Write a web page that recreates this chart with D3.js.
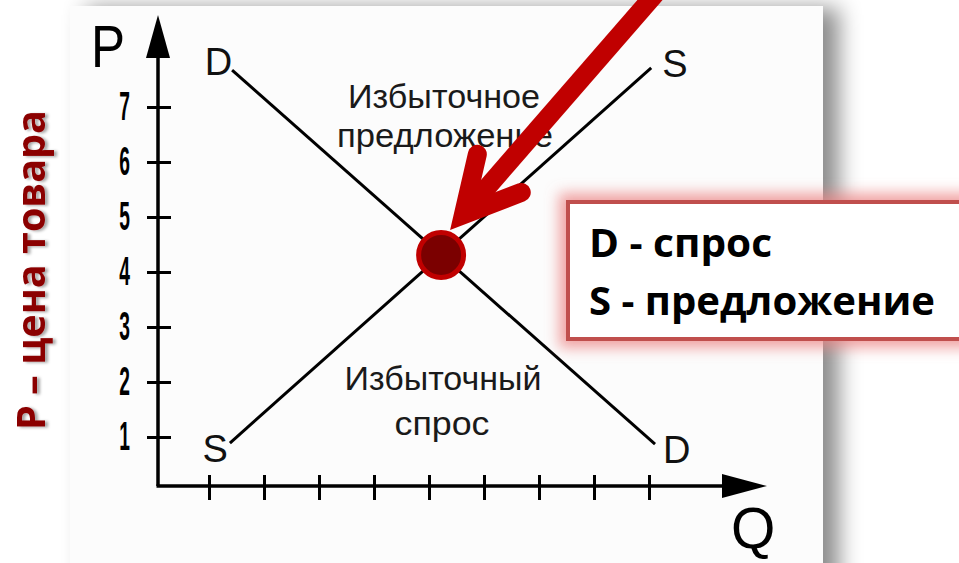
<!DOCTYPE html>
<html>
<head>
<meta charset="utf-8">
<script src="https://cdn.jsdelivr.net/npm/d3@7"></script>
<style>
  body { margin: 0; background: #fff; overflow: hidden; }
  svg { display: block; }
</style>
</head>
<body>
<div id="chart"></div>
<script>
// values (price P, quantity Q)
const priceTicks = [1, 2, 3, 4, 5, 6, 7];
const qtyTicks = [1, 2, 3, 4, 5, 6, 7, 8, 9];
const demand = [[1.42, 7.67], [9.11, 0.87]];
const supply = [[1.38, 0.89], [9.04, 7.71]];
const equilibrium = [5.22, 4.31];
const curveNames = ["D", "S"];
const surplusNote = ["Избыточное", "предложение"];
const shortageNote = ["Избыточный", "спрос"];
const legendLines = ["D - спрос", "S - предложение"];
const yTitle = "P – цена товара";
const axisNames = ["P", "Q"];

const w = 959;
const h = 563;

const x = d3.scaleLinear().domain([0, 10]).range([154, 704]);
const y = d3.scaleLinear().domain([0, 7]).range([492, 107]);

// the axes cross a little off the zero point in the source image
const ox = x(0) + 4;
const oy = y(0) - 6;

const svg = d3.select("#chart").append("svg")
  .attr("width", w)
  .attr("height", h);

const defs = svg.append("defs");

const panelShadow = defs.append("filter").attr("id", "panelShadow")
  .attr("x", "-20%").attr("y", "-20%").attr("width", "140%").attr("height", "140%");
panelShadow.append("feDropShadow")
  .attr("dx", 16).attr("dy", 2).attr("stdDeviation", 11)
  .attr("flood-color", "#000").attr("flood-opacity", 0.45);

const glow = defs.append("filter").attr("id", "glow")
  .attr("x", "-30%").attr("y", "-60%").attr("width", "160%").attr("height", "220%");
glow.append("feMorphology").attr("in", "SourceAlpha").attr("operator", "dilate").attr("radius", 7).attr("result", "fat");
glow.append("feGaussianBlur").attr("in", "fat").attr("stdDeviation", 7).attr("result", "blur");
glow.append("feFlood").attr("flood-color", "#ec8585").attr("flood-opacity", 0.75);
glow.append("feComposite").attr("in2", "blur").attr("operator", "in").attr("result", "halo");
const gm = glow.append("feMerge");
gm.append("feMergeNode").attr("in", "halo");
gm.append("feMergeNode").attr("in", "SourceGraphic");

const textShadow = defs.append("filter").attr("id", "textShadow")
  .attr("x", "-10%").attr("y", "-30%").attr("width", "120%").attr("height", "160%");
textShadow.append("feDropShadow")
  .attr("dx", -1).attr("dy", 3).attr("stdDeviation", 1.6)
  .attr("flood-color", "#000").attr("flood-opacity", 0.35);

// picture panel
svg.append("rect")
  .attr("x", 70).attr("y", 6)
  .attr("width", 753).attr("height", 620)
  .attr("fill", "#fcfcfc")
  .attr("filter", "url(#panelShadow)");

// x ticks
const xAxis = svg.append("g")
  .attr("transform", "translate(0," + (oy - 11) + ")")
  .call(d3.axisBottom(x).tickValues(qtyTicks).tickSize(25).tickFormat(""));
xAxis.select(".domain").remove();
xAxis.selectAll("line").attr("stroke", "#000").attr("stroke-width", 3);

// y ticks
const yAxis = svg.append("g")
  .attr("transform", "translate(" + (ox + 13) + ",0)")
  .call(d3.axisLeft(y).tickValues(priceTicks).tickSize(24).tickPadding(17).tickFormat(d3.format("d")));
yAxis.select(".domain").remove();
yAxis.selectAll("line").attr("stroke", "#000").attr("stroke-width", 3);
yAxis.selectAll("text")
  .attr("x", -41 / 0.48)
  .attr("transform", "scale(0.48,1)")
  .attr("font-family", "Liberation Sans, Arial, sans-serif")
  .attr("font-weight", "bold")
  .attr("font-size", 40)
  .attr("fill", "#000");

// axis lines with arrow heads
svg.append("line")
  .attr("x1", ox).attr("y1", oy).attr("x2", ox).attr("y2", 40)
  .attr("stroke", "#000").attr("stroke-width", 3.5);
svg.append("path")
  .attr("d", "M" + ox + ",15L" + (ox - 12) + ",58L" + (ox + 12) + ",58Z")
  .attr("fill", "#000");
svg.append("line")
  .attr("x1", ox - 1.5).attr("y1", oy).attr("x2", 740).attr("y2", oy)
  .attr("stroke", "#000").attr("stroke-width", 3.5);
svg.append("path")
  .attr("d", "M767," + oy + "L722," + (oy - 12) + "L722," + (oy + 12) + "Z")
  .attr("fill", "#000");

// axis names
const axisFont = "Liberation Sans, Arial, sans-serif";
svg.append("text")
  .attr("x", 91).attr("y", 67)
  .attr("font-family", axisFont).attr("font-size", 60)
  .attr("textLength", 34).attr("lengthAdjust", "spacingAndGlyphs")
  .text(axisNames[0]);
svg.append("text")
  .attr("x", 731).attr("y", 548)
  .attr("font-family", axisFont).attr("font-size", 57)
  .text(axisNames[1]);

// demand and supply lines
const line = d3.line().x(d => x(d[0])).y(d => y(d[1]));
svg.selectAll(".curve")
  .data([demand, supply])
  .enter()
  .append("path")
  .attr("class", "curve")
  .attr("d", line)
  .attr("fill", "none")
  .attr("stroke", "#000")
  .attr("stroke-width", 3);

// curve end labels
const endLabels = [
  { name: curveNames[0], p: demand[0], dx: 0, dy: 5, anchor: "end" },
  { name: curveNames[0], p: demand[1], dx: 8, dy: 19, anchor: "start" },
  { name: curveNames[1], p: supply[0], dx: -2, dy: 19, anchor: "end" },
  { name: curveNames[1], p: supply[1], dx: 11, dy: 9, anchor: "start" }
];
svg.selectAll(".endLabel")
  .data(endLabels)
  .enter()
  .append("text")
  .attr("class", "endLabel")
  .attr("x", d => x(d.p[0]) + d.dx)
  .attr("y", d => y(d.p[1]) + d.dy)
  .attr("text-anchor", d => d.anchor)
  .attr("font-family", axisFont)
  .attr("font-size", 38)
  .attr("fill", "#111")
  .text(d => d.name);

// area notes
const notes = [
  { t: surplusNote[0], cx: 444, by: 108, len: 192 },
  { t: surplusNote[1], cx: 445, by: 147, len: 216 },
  { t: shortageNote[0], cx: 443, by: 390, len: 197 },
  { t: shortageNote[1], cx: 442, by: 435, len: 95 }
];
svg.selectAll(".note")
  .data(notes)
  .enter()
  .append("text")
  .attr("class", "note")
  .attr("x", d => d.cx)
  .attr("y", d => d.by)
  .attr("text-anchor", "middle")
  .attr("font-family", axisFont)
  .attr("font-size", 33)
  .attr("fill", "#1a1a1a")
  .attr("textLength", d => d.len)
  .attr("lengthAdjust", "spacingAndGlyphs")
  .text(d => d.t);

// red pointer arrow towards the equilibrium
const ex = x(equilibrium[0]);
const ey = y(equilibrium[1]);
const tip = [ex + 9, ey - 25];
const ang = -49 * Math.PI / 180;
const half = 28 * Math.PI / 180;
const sw = 19;
const ext = (sw / 2) / Math.sin(half);
const v = [tip[0] + Math.cos(ang) * ext, tip[1] + Math.sin(ang) * ext];
const armL = [v[0] + Math.cos(ang - half) * 62, v[1] + Math.sin(ang - half) * 62];
const armR = [v[0] + Math.cos(ang + half) * 62, v[1] + Math.sin(ang + half) * 62];
const far = [v[0] + Math.cos(ang) * 420, v[1] + Math.sin(ang) * 420];

svg.append("path")
  .attr("d", "M" + v + "L" + far)
  .attr("fill", "none")
  .attr("stroke", "#c00000")
  .attr("stroke-width", sw);
svg.append("path")
  .attr("d", "M" + armL + "L" + v + "L" + armR)
  .attr("fill", "none")
  .attr("stroke", "#c00000")
  .attr("stroke-width", sw)
  .attr("stroke-linecap", "round")
  .attr("stroke-linejoin", "miter");

// equilibrium point
svg.append("circle")
  .attr("cx", ex).attr("cy", ey)
  .attr("r", 22.5)
  .attr("fill", "#7b0000")
  .attr("stroke", "#c00000")
  .attr("stroke-width", 5);

// legend box
svg.append("rect")
  .attr("x", 568).attr("y", 202)
  .attr("width", 420).attr("height", 137)
  .attr("fill", "#fff")
  .attr("stroke", "#c0504d")
  .attr("stroke-width", 4)
  .attr("filter", "url(#glow)");

svg.selectAll(".legendLine")
  .data(legendLines)
  .enter()
  .append("text")
  .attr("class", "legendLine")
  .attr("x", 589)
  .attr("y", (d, i) => 257 + i * 58)
  .attr("font-family", "Open Sans, Noto Sans, sans-serif")
  .attr("font-weight", "bold")
  .attr("font-size", 40)
  .attr("fill", "#000")
  .attr("textLength", (d, i) => i ? 346 : 183)
  .attr("lengthAdjust", "spacingAndGlyphs")
  .text(d => d);

// rotated title on the left
svg.append("text")
  .attr("transform", "translate(45,430) rotate(-90)")
  .attr("font-family", "Open Sans, Noto Sans, sans-serif")
  .attr("font-weight", "bold")
  .attr("font-size", 40)
  .attr("fill", "#8b0000")
  .attr("textLength", 320)
  .attr("lengthAdjust", "spacingAndGlyphs")
  .attr("filter", "url(#textShadow)")
  .text(yTitle);
</script>
</body>
</html>
